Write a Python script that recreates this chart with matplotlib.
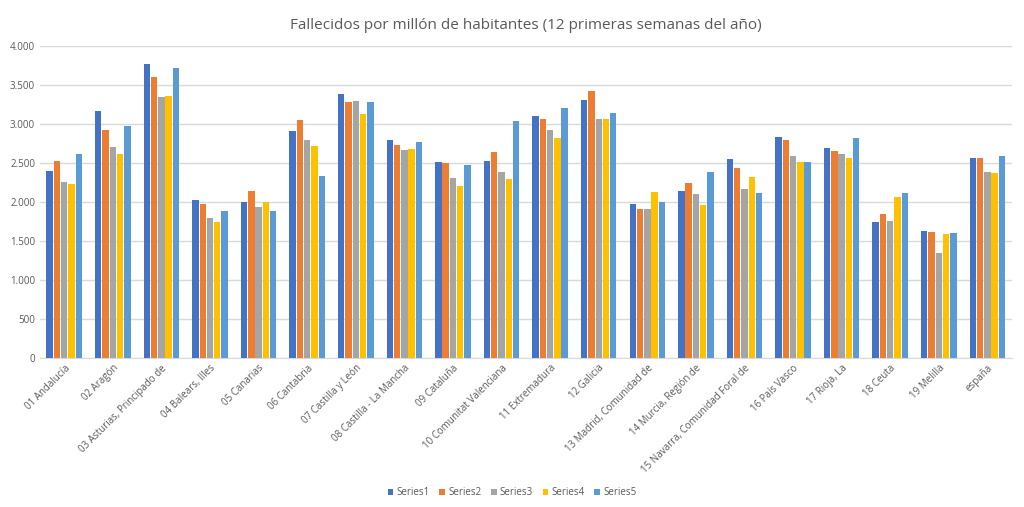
import numpy as np
import matplotlib.pyplot as plt
from matplotlib.ticker import FuncFormatter

regiones = ['01 Andalucía', '02 Aragón', '03 Asturias, Principado de', '04 Balears, Illes',
            '05 Canarias', '06 Cantabria', '07 Castilla y León', '08 Castilla - La Mancha',
            '09 Cataluña', '10 Comunitat Valenciana', '11 Extremadura', '12 Galicia',
            '13 Madrid, Comunidad de', '14 Murcia, Región de', '15 Navarra, Comunidad Foral de',
            '16 País Vasco', '17 Rioja, La', '18 Ceuta', '19 Melilla', 'españa']

series1 = [2400, 3170, 3770, 2030, 2000, 2910, 3390, 2790, 2510, 2530,
           3100, 3310, 1970, 2140, 2550, 2830, 2690, 1750, 1630, 2560]
series2 = [2530, 2930, 3600, 1970, 2140, 3050, 3280, 2730, 2500, 2640,
           3060, 3420, 1910, 2250, 2440, 2790, 2660, 1850, 1610, 2570]
series3 = [2260, 2700, 3350, 1800, 1940, 2790, 3300, 2670, 2310, 2390,
           2920, 3060, 1910, 2100, 2170, 2590, 2620, 1760, 1340, 2390]
series4 = [2230, 2610, 3360, 1750, 2000, 2720, 3130, 2680, 2210, 2290,
           2820, 3060, 2130, 1960, 2320, 2510, 2560, 2060, 1590, 2370]
series5 = [2620, 2980, 3720, 1890, 1890, 2340, 3280, 2770, 2470, 3040,
           3210, 3140, 2000, 2390, 2110, 2510, 2820, 2120, 1600, 2590]

nombres = ['Series1', 'Series2', 'Series3', 'Series4', 'Series5']
colores = ['#4472C4', '#ED7D31', '#A5A5A5', '#FFC000', '#5B9BD5']

plt.rcParams['font.family'] = ['Open Sans', 'DejaVu Sans']

fig = plt.figure(figsize=(10.24, 5.07), dpi=100)
ax = fig.add_axes([0.039, 0.294, 0.949, 0.615])

x = np.arange(len(regiones))
ancho = 0.15
for i, (vals, nom, col) in enumerate(zip([series1, series2, series3, series4, series5], nombres, colores)):
    ax.bar(x + (i - 2) * ancho, vals, ancho * 0.88, color=col, label=nom, zorder=3)

ax.set_xlim(-0.5, len(regiones) - 0.5)
ax.set_ylim(0, 4000)
ax.set_yticks(range(0, 4001, 500))
ax.yaxis.set_major_formatter(FuncFormatter(lambda v, p: f'{int(v):,}'.replace(',', '.')))
ax.grid(axis='y', color='#D9D9D9', linewidth=1, zorder=0)
ax.tick_params(axis='both', length=0, labelsize=7, labelcolor='#595959')
ax.set_xticks(x)
ax.set_xticklabels(regiones, rotation=45, ha='right', rotation_mode='anchor')
for s in ['top', 'right', 'left']:
    ax.spines[s].set_visible(False)
ax.spines['bottom'].set_color('#D9D9D9')

ax.set_title('Fallecidos por millón de habitantes (12 primeras semanas del año)',
             fontsize=11, color='#595959', pad=12)

fig.legend(loc='lower center', ncol=5, bbox_to_anchor=(0.5, 0.0), frameon=False,
           fontsize=7, handlelength=0.6, handleheight=0.6, handletextpad=0.3,
           columnspacing=1.0, labelcolor='#595959')

fig.savefig('out.png', dpi=100)
